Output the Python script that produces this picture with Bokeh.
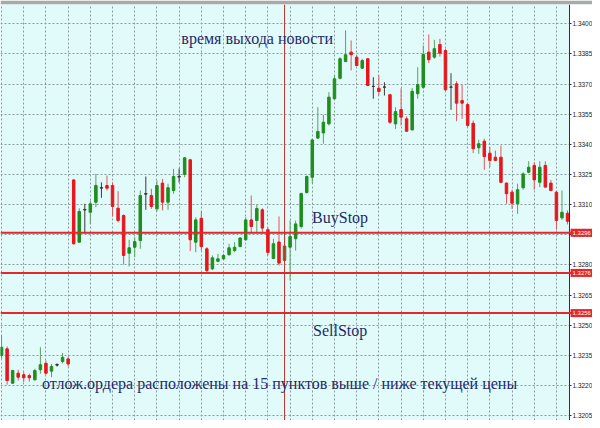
from bokeh.plotting import figure
from bokeh.models import (Span, Label, FixedTicker, NumeralTickFormatter, Range1d,
                          ColumnDataSource, BoxAnnotation)
from bokeh.embed import file_html
from bokeh.resources import INLINE

# ---- candle data (bar index 0..102) ----
opens = [
    1.32349, 1.32382, 1.32211, 1.32261, 1.32253, 1.32249, 1.32228, 1.32278, 1.32310, 1.32271, 1.32301, 1.32319, 1.32332,
    1.33223, 1.32913, 1.33073, 1.33062, 1.33112, 1.33182, 1.33195, 1.33195, 1.33082, 1.33046,
    1.32858, 1.32888, 1.32921, 1.33152, 1.33145, 1.33079, 1.33207, 1.33112, 1.33170, 1.33237,
    1.33250, 1.33323, 1.32913, 1.33032, 1.32880, 1.32780, 1.32818, 1.32830, 1.32850, 1.32871,
    1.32891, 1.32925, 1.33024, 1.33021, 1.33074, 1.32975, 1.32832, 1.32914, 1.32822, 1.32888,
    1.32930, 1.32991, 1.33160, 1.33236, 1.33431, 1.33457, 1.33502, 1.33627, 1.33729, 1.33812,
    1.33859, 1.33834, 1.33779, 1.33826, 1.33688, 1.33679, 1.33684, 1.33647, 1.33502, 1.33573,
    1.33527, 1.33472, 1.33652, 1.33684, 1.33859, 1.33834, 1.33897, 1.33867, 1.33684, 1.33701,
    1.33618, 1.33598, 1.33505, 1.33383, 1.33416, 1.33356, 1.33336, 1.33336, 1.33207, 1.33162,
    1.33104, 1.33184, 1.33261, 1.33295, 1.33211, 1.33295, 1.33207, 1.33162, 1.33034, 1.33057,
]
highs = [
    1.32448, 1.32394, 1.32278, 1.32278, 1.32266, 1.32258, 1.32283, 1.32390, 1.32324, 1.32307, 1.32310, 1.32362, 1.32344,
    1.33225, 1.33082, 1.33104, 1.33120, 1.33253, 1.33211, 1.33245, 1.33211, 1.33167, 1.33051,
    1.32925, 1.32938, 1.33170, 1.33240, 1.33179, 1.33220, 1.33228, 1.33204, 1.33278, 1.33280,
    1.33336, 1.33328, 1.33037, 1.33067, 1.32888, 1.32847, 1.32855, 1.32855, 1.32905, 1.32913,
    1.32938, 1.33037, 1.33145, 1.33100, 1.33082, 1.32987, 1.32930, 1.33041, 1.32943, 1.33021,
    1.33021, 1.33160, 1.33245, 1.33428, 1.33585, 1.33547, 1.33660, 1.33743, 1.33834, 1.33967,
    1.33917, 1.33842, 1.33826, 1.33829, 1.33734, 1.33743, 1.33709, 1.33652, 1.33585, 1.33679,
    1.33539, 1.33681, 1.33784, 1.33892, 1.33947, 1.33920, 1.33925, 1.33876, 1.33754, 1.33714,
    1.33698, 1.33603, 1.33519, 1.33423, 1.33428, 1.33386, 1.33369, 1.33394, 1.33211, 1.33174,
    1.33204, 1.33261, 1.33316, 1.33311, 1.33316, 1.33316, 1.33223, 1.33167, 1.33170, 1.33071,
]
lows = [
    1.32334, 1.32204, 1.32207, 1.32224, 1.32216, 1.32219, 1.32224, 1.32258, 1.32253, 1.32241, 1.32294, 1.32310, 1.32294,
    1.32901, 1.32911, 1.32956, 1.33004, 1.33087, 1.33134, 1.33170, 1.33041, 1.33012, 1.32802,
    1.32792, 1.32838, 1.32880, 1.33074, 1.33079, 1.33066, 1.33071, 1.33074, 1.33154, 1.33210,
    1.33236, 1.32868, 1.32863, 1.32871, 1.32758, 1.32775, 1.32813, 1.32825, 1.32847, 1.32863,
    1.32888, 1.32921, 1.32956, 1.32963, 1.32955, 1.32847, 1.32829, 1.32797, 1.32797, 1.32722,
    1.32871, 1.32981, 1.33155, 1.33205, 1.33428, 1.33403, 1.33494, 1.33623, 1.33723, 1.33809,
    1.33768, 1.33789, 1.33776, 1.33689, 1.33627, 1.33643, 1.33643, 1.33502, 1.33477, 1.33494,
    1.33465, 1.33469, 1.33627, 1.33676, 1.33804, 1.33826, 1.33837, 1.33668, 1.33572, 1.33515,
    1.33527, 1.33485, 1.33356, 1.33353, 1.33273, 1.33286, 1.33316, 1.33207, 1.33104, 1.33079,
    1.33054, 1.33174, 1.33256, 1.33174, 1.33187, 1.33187, 1.33167, 1.32975, 1.33024, 1.33001,
]
closes = [
    1.32390, 1.32224, 1.32274, 1.32241, 1.32238, 1.32238, 1.32274, 1.32303, 1.32261, 1.32294, 1.32304, 1.32340, 1.32307,
    1.32905, 1.33066, 1.33076, 1.33104, 1.33195, 1.33185, 1.33182, 1.33091, 1.33021, 1.32847,
    1.32885, 1.32916, 1.33145, 1.33155, 1.33091, 1.33195, 1.33112, 1.33184, 1.33240, 1.33240,
    1.33333, 1.32925, 1.33024, 1.32891, 1.32772, 1.32835, 1.32830, 1.32847, 1.32885, 1.32888,
    1.32934, 1.33024, 1.32991, 1.33081, 1.32983, 1.32862, 1.32905, 1.32809, 1.32894, 1.32941,
    1.33004, 1.33155, 1.33240, 1.33422, 1.33464, 1.33510, 1.33635, 1.33726, 1.33826, 1.33846,
    1.33846, 1.33792, 1.33817, 1.33693, 1.33689, 1.33663, 1.33686, 1.33510, 1.33563, 1.33535,
    1.33465, 1.33664, 1.33698, 1.33847, 1.33821, 1.33876, 1.33854, 1.33671, 1.33686, 1.33605,
    1.33605, 1.33494, 1.33378, 1.33403, 1.33339, 1.33320, 1.33320, 1.33211, 1.33154, 1.33107,
    1.33174, 1.33253, 1.33286, 1.33223, 1.33286, 1.33187, 1.33170, 1.33021, 1.33062, 1.33017,
]
bar_index = list(range(len(opens)))

price_ticks = [1.3205, 1.3220, 1.3235, 1.3250, 1.3265, 1.3280, 1.3295,
               1.3310, 1.3325, 1.3340, 1.3355, 1.3370, 1.3385, 1.3400]
grid_bars = list(range(0, 104, 4))
order_levels = [1.3296, 1.3276, 1.3256]
order_labels = ["1.3296", "1.3276", "1.3256"]
news_bar = 51

annot_texts = ["время выхода новости", "BuyStop", "SellStop",
               "отлож.ордера расположены на 15 пунктов выше / ниже текущей цены"]
annot_x = [32.4, 55.96, 56.14, 7.3]
annot_y = [1.33925, 1.33034, 1.32474, 1.32210]

# ---- styling ----
UP = "#1e8e1e"
DOWN = "#e8161c"
DOJI = "#3a3a3a"
UP_WICK = "#5f9f5f"
DOWN_WICK = "#e4555a"
BG = "#E1FBFB"
LEVEL = "#e5262b"

body_col, wick_col, tops, bottoms = [], [], [], []
for o, c in zip(opens, closes):
    if c - o > 0.00005:
        body_col.append(UP); wick_col.append(UP_WICK)
    elif o - c > 0.00005:
        body_col.append(DOWN); wick_col.append(DOWN_WICK)
    else:
        body_col.append(DOJI); wick_col.append(DOJI)
    tops.append(max(o, c))
    bottoms.append(min(o, c))

src = ColumnDataSource(dict(x=bar_index, o=opens, h=highs, l=lows, c=closes,
                            top=tops, bottom=bottoms, bc=body_col, wc=wick_col))

W, H = 592, 420
X0, X_AXIS, X_END = -0.19, 102.35, 106.5   # chart area ends at X_AXIS; price scale beyond it

p = figure(width=W, height=H,
           x_range=Range1d(X0, X_END), y_range=Range1d(1.320254, 1.340961),
           y_axis_location="right", output_backend="svg", toolbar_location=None,
           min_border_left=0, min_border_top=4, min_border_bottom=0, min_border_right=0,
           background_fill_color=BG, border_fill_color="#a9a9a9",
           outline_line_color=None)

p.xaxis.visible = False
p.xgrid.ticker = FixedTicker(ticks=grid_bars)
p.grid.grid_line_color = "#8a9a9a"
p.grid.grid_line_dash = "2 2"
p.grid.grid_line_width = 1
p.grid.level = "image"

# white price-scale panel (covers the frame right of the chart area)
p.add_layout(BoxAnnotation(left=X_AXIS, fill_color="white", fill_alpha=1.0,
                           line_color=None, level="underlay"))

ax = p.yaxis[0]
ax.fixed_location = X_AXIS
ax.ticker = FixedTicker(ticks=price_ticks)
ax.formatter = NumeralTickFormatter(format="0.0000")
ax.major_label_text_font = "Liberation Sans"
ax.major_label_text_font_size = "6.5px"
ax.major_label_text_color = "#222222"
ax.major_label_standoff = 1
ax.major_tick_out = 2
ax.major_tick_in = 0
ax.minor_tick_out = 0
ax.minor_tick_in = 0
ax.axis_line_color = "#333333"
ax.major_tick_line_color = "#333333"

# candles
p.segment(x0="x", y0="l", x1="x", y1="h", color="wc", line_width=1, source=src)
p.vbar(x="x", width=0.45, top="top", bottom="bottom", fill_color="bc",
       line_color="bc", line_width=1, source=src)

# pending-order levels and news time
for lvl in order_levels:
    p.add_layout(Span(location=lvl, dimension="width", line_color=LEVEL, line_width=2))
p.add_layout(Span(location=news_bar, dimension="height", line_color="#c03530", line_width=1))

# price boxes on the price scale
for lvl, txt in zip(order_levels, order_labels):
    p.add_layout(Label(x=X_AXIS + 0.2, y=lvl, text=txt, text_align="left",
                       text_baseline="middle", text_font="Liberation Sans",
                       text_font_size="6px", text_color="white",
                       background_fill_color=LEVEL, background_fill_alpha=1.0,
                       padding=2))

# annotations
for t, xx, yy in zip(annot_texts, annot_x, annot_y):
    p.add_layout(Label(x=xx, y=yy, text=t, text_align="left", text_baseline="alphabetic",
                       text_font="Liberation Serif", text_font_size="16px",
                       text_color="#1f2a68"))

open("out.html", "w").write(file_html(p, INLINE))
